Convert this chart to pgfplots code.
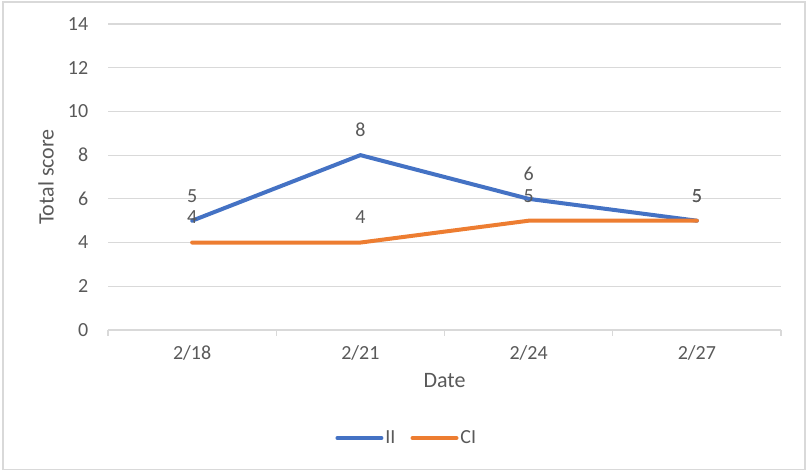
\documentclass[border=0pt]{standalone}
\usepackage{fontspec}
\setmainfont{Carlito}
\usepackage{pgfplots}
\pgfplotsset{compat=1.18}
\definecolor{iiblue}{HTML}{4472C4}
\definecolor{ciorange}{HTML}{ED7D31}
\definecolor{txt}{HTML}{595959}
\definecolor{gridc}{HTML}{D9D9D9}
\begin{document}
\begin{tikzpicture}[x=1bp,y=1bp]
\path (0,0) rectangle (808,471);
\draw[gridc, line width=1.2bp] (3,1.5) rectangle (805,469);
\begin{axis}[
  at={(108bp,141bp)}, anchor=south west, scale only axis,
  width=673bp, height=306bp,
  xmin=-0.5, xmax=3.5, ymin=0, ymax=14,
  xtick={0,1,2,3}, xticklabels={2/18,2/21,2/24,2/27},
  minor xtick={-0.5,0.5,1.5,2.5,3.5},
  ytick={0,2,...,14},
  axis lines*=left,
  y axis line style={draw=none},
  x axis line style={gridc, line width=1.2bp},
  major x tick style={draw=none},
  minor x tick style={gridc, line width=1.2bp},
  minor tick length=6bp,
  tick align=outside,
  ytick style={draw=none},
  ymajorgrids, grid style={gridc, line width=1.2bp},
  /pgf/number format/assume math mode=true,
  tick label style={font=\fontsize{20bp}{23bp}\selectfont, text=txt},
  yticklabel style={xshift=-12bp},
  xticklabel style={yshift=-8bp},
  xlabel={Date}, ylabel={Total score},
  label style={font=\fontsize{22bp}{25bp}\selectfont, text=txt},
  xlabel style={at={(axis description cs:0.5,-0.1667)}, anchor=center},
  ylabel style={at={(axis description cs:-0.0921,0.5)}, anchor=center},
  legend style={at={(0.444,-0.353)}, anchor=center, draw=none, fill=none,
    font=\fontsize{20bp}{23bp}\selectfont, text=txt, legend columns=2,
    /tikz/every even column/.append style={column sep=13bp}},
  legend cell align=left,
  legend image code/.code={\draw[#1] (0bp,0bp) -- (44bp,0bp);},
  nodes near coords,
  every node near coord/.append style={anchor=center, yshift=25bp,
    font=\fontsize{20bp}{23bp}\selectfont, text=txt},
]
\addplot[iiblue, line width=4bp, line join=round, line cap=round] coordinates {(0,5) (1,8) (2,6) (3,5)};
\addlegendentry{II}
\addplot[ciorange, line width=4bp, line join=round, line cap=round] coordinates {(0,4) (1,4) (2,5) (3,5)};
\addlegendentry{CI}
\end{axis}
\end{tikzpicture}
\end{document}
